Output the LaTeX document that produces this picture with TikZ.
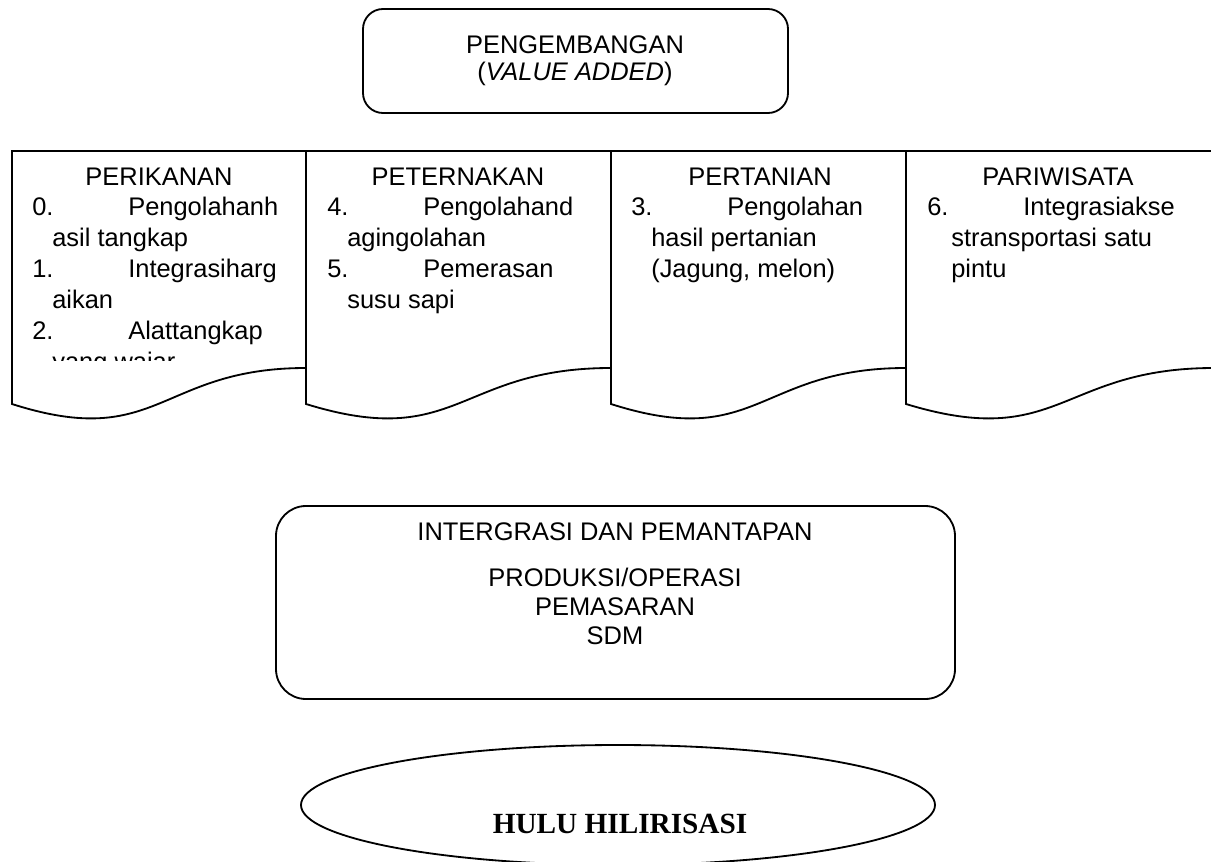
\documentclass[tikz,border=0pt]{standalone}
\usepackage{fontspec}
\setmainfont{Liberation Sans}
\newfontfamily\hulufont{Liberation Serif}

\newcommand{\bodysize}{\fontsize{18.1}{22}\selectfont}
\newcommand{\numline}[2]{\makebox[2.4cm][l]{#1}#2}

\begin{document}
\begin{tikzpicture}[x=0.025cm, y=-0.025cm,
    doc/.style={draw, fill=white, line width=1.3pt},
    box/.style={draw, line width=1.3pt},
    title/.style={anchor=base, inner sep=0pt, font=\bodysize},
    item/.style={anchor=base west, inner sep=0pt, font=\bodysize}]
    \useasboundingbox (0,0) rectangle (1211,862);

    % Top box
    \draw[box, rounded corners=0.5cm] (363,9) rectangle (788,113);
    \node[title] (pengembangan) at (575,53) {PENGEMBANGAN};
    \node[title] (valueadded) at (575,80) {(\textit{VALUE ADDED})};

    % Perikanan
    \draw[doc] (12,151) -- (306,151) -- (306,368) .. controls (159,368) and (159,451) .. (12,404) -- cycle;
    \node[title] (perikanan) at (159,185) {PERIKANAN};
    \begin{scope}
        \clip (12,151) rectangle (306,360);
        \node[item] (ikan0) at (32,215) {\numline{0.}{Pengolahanh}};
        \node[item] (ikan0b) at (52,246) {asil tangkap};
        \node[item] (ikan1) at (32,277) {\numline{1.}{Integrasiharg}};
        \node[item] (ikan1b) at (52,308) {aikan};
        \node[item] (ikan2) at (32,339) {\numline{2.}{Alattangkap}};
        \node[item] (ikan2b) at (52,370) {yang wajar};
    \end{scope}

    % Peternakan
    \draw[doc] (306,151) -- (611,151) -- (611,368) .. controls (458,368) and (458,451) .. (306,404) -- cycle;
    \node[title] (peternakan) at (458,185) {PETERNAKAN};
    \node[item] (ternak4) at (327,215) {\numline{4.}{Pengolahand}};
    \node[item] (ternak4b) at (347,246) {agingolahan};
    \node[item] (ternak5) at (327,277) {\numline{5.}{Pemerasan}};
    \node[item] (ternak5b) at (347,308) {susu sapi};

    % Pertanian
    \draw[doc] (611,151) -- (906,151) -- (906,368) .. controls (758,368) and (758,451) .. (611,404) -- cycle;
    \node[title] (pertanian) at (760,185) {PERTANIAN};
    \node[item] (tani3) at (631,215) {\numline{3.}{Pengolahan}};
    \node[item] (tani3b) at (651,246) {hasil pertanian};
    \node[item] (tani3c) at (651,277) {(Jagung, melon)};

    % Pariwisata
    \draw[doc] (906,151) -- (1214,151) -- (1214,368) .. controls (1060,368) and (1060,451) .. (906,404) -- cycle;
    \node[title] (pariwisata) at (1058,185) {PARIWISATA};
    \node[item] (wisata6) at (927,215) {\numline{6.}{Integrasiakse}};
    \node[item] (wisata6b) at (951,246) {stransportasi satu};
    \node[item] (wisata6c) at (951,277) {pintu};

    % Middle box
    \draw[box, rounded corners=0.75cm] (276,506) rectangle (955,699);
    \node[title] (integrasi) at (615,540) {INTERGRASI DAN PEMANTAPAN};
    \node[title] (produksi) at (615,586) {PRODUKSI/OPERASI};
    \node[title] (pemasaran) at (615,615) {PEMASARAN};
    \node[title] (sdm) at (615,644) {SDM};

    % Bottom ellipse
    \draw[box] (618,805) ellipse [x radius=317, y radius=60];
    \node[anchor=base, inner sep=0pt, font=\hulufont\bfseries\fontsize{20.8}{24}\selectfont] (hulu) at (620,833) {HULU HILIRISASI};
\end{tikzpicture}
\end{document}
